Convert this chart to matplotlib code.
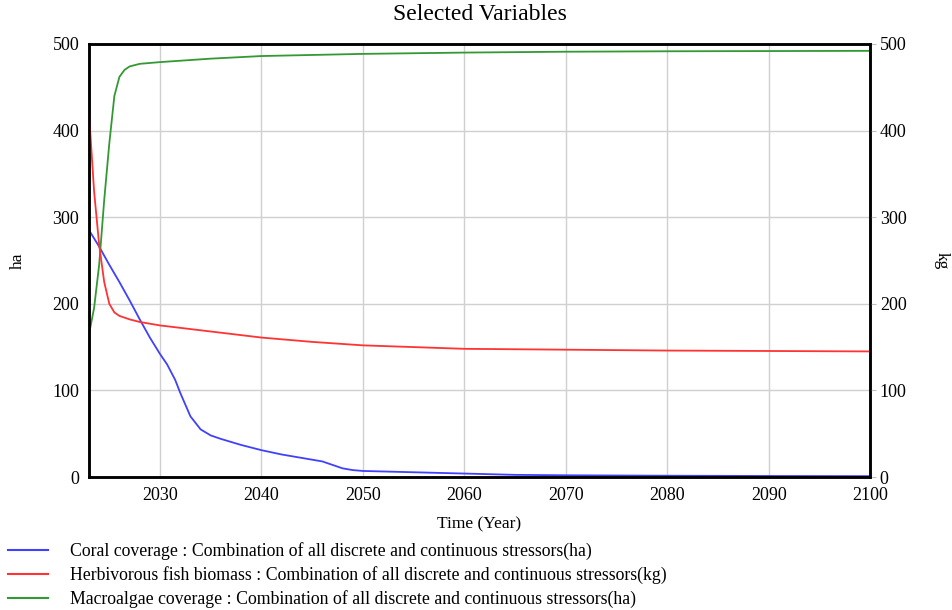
import matplotlib
matplotlib.use("Agg")
import matplotlib.pyplot as plt
from matplotlib.lines import Line2D

plt.rcParams['font.family'] = ['Liberation Serif', 'DejaVu Serif']

# Coral coverage (ha)
coral_years = [2023, 2024, 2025, 2026, 2027, 2028, 2029, 2030, 2030.7, 2031.5, 2032, 2033, 2034,
               2035, 2036, 2038, 2040, 2042, 2044, 2046, 2047, 2048, 2049, 2050, 2055, 2060,
               2065, 2070, 2080, 2090, 2100]
coral_vals = [285, 266, 245, 225, 204, 182, 161, 142, 130, 112, 97, 70, 55,
              48, 44, 37, 31, 26, 22, 18, 14, 10, 8, 7, 5.5, 4,
              2.5, 2, 1.5, 1.2, 1]

# Herbivorous fish biomass (kg)
fish_years = [2023, 2023.5, 2024, 2024.5, 2025, 2025.5, 2026, 2027, 2028, 2030, 2035, 2040,
              2045, 2050, 2055, 2060, 2070, 2080, 2090, 2100]
fish_vals = [420, 330, 268, 225, 200, 190, 186, 182, 179, 175, 168, 161,
             156, 152, 150, 148, 147, 146, 145.5, 145]

# Macroalgae coverage (ha)
algae_years = [2023, 2023.5, 2024, 2024.5, 2025, 2025.5, 2026, 2026.5, 2027, 2028, 2030, 2035,
               2040, 2050, 2060, 2070, 2080, 2100]
algae_vals = [165, 195, 245, 320, 385, 440, 462, 470, 474, 477, 479, 483,
              486, 488.5, 490, 491, 491.5, 492]

xticks = [2030, 2040, 2050, 2060, 2070, 2080, 2090, 2100]
yticks = [0, 100, 200, 300, 400, 500]

labels = ["Coral coverage : Combination of all discrete and continuous stressors(ha)",
          "Herbivorous fish biomass : Combination of all discrete and continuous stressors(kg)",
          "Macroalgae coverage : Combination of all discrete and continuous stressors(ha)"]
colors = ['#4040ff', '#ff3333', '#339933']

fig = plt.figure(figsize=(9.53, 6.10), dpi=100)
ax = fig.add_axes([0.0934, 0.218, 0.8196, 0.710])
ax2 = ax.twinx()

ax.plot(coral_years, coral_vals, color=colors[0], lw=1.3)
ax.plot(algae_years, algae_vals, color=colors[2], lw=1.3)
ax2.plot(fish_years, fish_vals, color=colors[1], lw=1.3)

for a in (ax, ax2):
    a.set_xlim(2023, 2100)
    a.set_ylim(0, 500)
    a.set_yticks(yticks)
    for s in a.spines.values():
        s.set_linewidth(1.8)
        s.set_color('black')
ax.set_xticks(xticks)
ax.grid(True, color='#d0d0d0', lw=1.0)
ax.set_axisbelow(True)
ax.tick_params(axis='both', length=0, labelsize=13, pad=7)
ax2.tick_params(axis='y', length=4, color='#c0c0c0', labelsize=13, pad=3)

ax.set_title("Selected Variables", fontsize=17, pad=17)
ax.set_xlabel("Time (Year)", fontsize=12.5, labelpad=9)
ax.set_ylabel("ha", fontsize=12.5, labelpad=19)
ax2.set_ylabel("kg", fontsize=12.5, rotation=-90, labelpad=31)

handles = [Line2D([], [], color=c, lw=1.5) for c in colors]
fig.legend(handles, labels, loc='lower left', bbox_to_anchor=(8 / 953, 2 / 610), frameon=False,
           fontsize=12.8, handlelength=2.25, handletextpad=1.25, labelspacing=0.33,
           borderpad=0, borderaxespad=0)

fig.savefig("out.png", dpi=100)
